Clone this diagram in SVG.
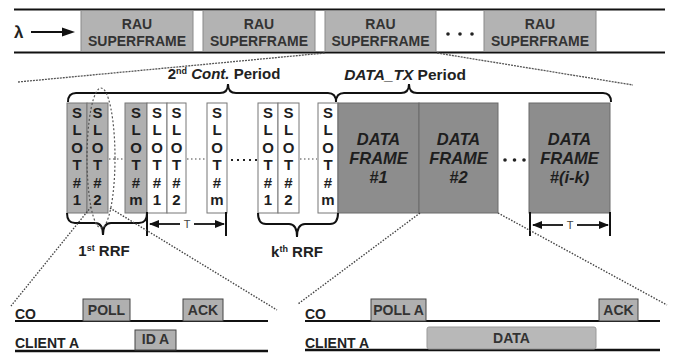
<svg xmlns="http://www.w3.org/2000/svg" width="679" height="354" viewBox="0 0 679 354">
<defs>
<style>
text{font-family:"Liberation Sans",Arial,sans-serif;font-weight:bold;fill:#222}
.rau{fill:#b3b3b3;stroke:#8a8a8a;stroke-width:1}
.rt{font-size:14px;text-anchor:middle;fill:#333}
.slotg{fill:#b0b0b0;stroke:#777;stroke-width:1}
.slotw{fill:#fff;stroke:#777;stroke-width:1}
.st{font-size:15px;text-anchor:middle;fill:#1e1e1e}
.df{fill:#8d8d8d;stroke:#6a6a6a;stroke-width:1}
.dt{font-size:16.5px;font-style:italic;text-anchor:middle;fill:#1e1e1e}
.brace{fill:none;stroke:#111;stroke-width:2}
.dot{fill:none;stroke:#555;stroke-width:1.3;stroke-dasharray:2 1}
.lead{fill:none;stroke:#444;stroke-width:1.4;stroke-dasharray:1.5 1.5}
.bar{stroke:#111;stroke-width:2}
.tline{stroke:#111;stroke-width:1.8}
.box{fill:#b0b0b0;stroke:#444;stroke-width:1}
.bt{font-size:14px;text-anchor:middle;fill:#333}
.lbl{font-size:14px;fill:#222}
.axis{stroke:#111;stroke-width:2}
.pdot{fill:#222}
</style>
<marker id="ah" viewBox="0 0 10 8" refX="9" refY="4" markerWidth="10" markerHeight="8" markerUnits="userSpaceOnUse" orient="auto-start-reverse">
<path d="M0,0 L10,4 L0,8 Z" fill="#111"/>
</marker>
</defs>

<g id="top-band">
<line x1="14" y1="9.5" x2="665" y2="9.5" class="axis"/>
<line x1="14" y1="52.5" x2="665" y2="52.5" class="axis"/>
<text x="14" y="38" style="font-size:17px">λ</text>
<line x1="31" y1="32" x2="66" y2="32" stroke="#111" stroke-width="2"/>
<path d="M62,27.5 L75,32 L62,36.5 Z" fill="#111"/>
</g>

<g id="rau1"><rect x="81" y="10.5" width="112" height="41" class="rau"/><text x="137" y="28.5" class="rt">RAU</text><text x="137" y="46" class="rt">SUPERFRAME</text></g>
<g id="rau2"><rect x="203" y="10.5" width="112" height="41" class="rau"/><text x="259" y="28.5" class="rt">RAU</text><text x="259" y="46" class="rt">SUPERFRAME</text></g>
<g id="rau3"><rect x="325" y="10.5" width="111" height="41" class="rau"/><text x="380.5" y="28.5" class="rt">RAU</text><text x="380.5" y="46" class="rt">SUPERFRAME</text></g>
<g id="rau-dots"><circle cx="448" cy="34" r="1.8" class="pdot"/><circle cx="460" cy="34" r="1.8" class="pdot"/><circle cx="472" cy="34" r="1.8" class="pdot"/></g>
<g id="rau4"><rect x="484" y="10.5" width="112" height="41" class="rau"/><text x="540" y="28.5" class="rt">RAU</text><text x="540" y="46" class="rt">SUPERFRAME</text></g>

<g id="period-labels">
<text x="224" y="79" style="font-size:15px" text-anchor="middle">2<tspan font-size="9" dy="-5">nd</tspan><tspan dy="5" font-style="italic"> Cont.</tspan> Period</text>
<text x="405" y="80" style="font-size:15.5px" text-anchor="middle"><tspan font-style="italic">DATA_TX</tspan> Period</text>
</g>

<g id="slots">
<rect x="67" y="103" width="20" height="110" class="slotg"/>
<rect x="87" y="103" width="21" height="110" class="slotg"/>
<rect x="125" y="103" width="22" height="110" class="slotg"/>
<rect x="147" y="103" width="20" height="110" class="slotw"/>
<rect x="167" y="103" width="19" height="110" class="slotw"/>
<rect x="207" y="103" width="20" height="110" class="slotw"/>
<rect x="258" y="103" width="20" height="110" class="slotw"/>
<rect x="278" y="103" width="21" height="110" class="slotw"/>
<rect x="318" y="103" width="20" height="110" class="slotw"/>
<text class="st"><tspan x="77" y="117.5">S</tspan><tspan x="77" y="135">L</tspan><tspan x="77" y="152.5">O</tspan><tspan x="77" y="170">T</tspan><tspan x="77" y="187.5">#</tspan><tspan x="77" y="205">1</tspan></text>
<text class="st"><tspan x="97.5" y="117.5">S</tspan><tspan x="97.5" y="135">L</tspan><tspan x="97.5" y="152.5">O</tspan><tspan x="97.5" y="170">T</tspan><tspan x="97.5" y="187.5">#</tspan><tspan x="97.5" y="205">2</tspan></text>
<text class="st"><tspan x="136" y="117.5">S</tspan><tspan x="136" y="135">L</tspan><tspan x="136" y="152.5">O</tspan><tspan x="136" y="170">T</tspan><tspan x="136" y="187.5">#</tspan><tspan x="136" y="205">m</tspan></text>
<text class="st"><tspan x="157" y="117.5">S</tspan><tspan x="157" y="135">L</tspan><tspan x="157" y="152.5">O</tspan><tspan x="157" y="170">T</tspan><tspan x="157" y="187.5">#</tspan><tspan x="157" y="205">1</tspan></text>
<text class="st"><tspan x="176.5" y="117.5">S</tspan><tspan x="176.5" y="135">L</tspan><tspan x="176.5" y="152.5">O</tspan><tspan x="176.5" y="170">T</tspan><tspan x="176.5" y="187.5">#</tspan><tspan x="176.5" y="205">2</tspan></text>
<text class="st"><tspan x="217" y="117.5">S</tspan><tspan x="217" y="135">L</tspan><tspan x="217" y="152.5">O</tspan><tspan x="217" y="170">T</tspan><tspan x="217" y="187.5">#</tspan><tspan x="217" y="205">m</tspan></text>
<text class="st"><tspan x="268" y="117.5">S</tspan><tspan x="268" y="135">L</tspan><tspan x="268" y="152.5">O</tspan><tspan x="268" y="170">T</tspan><tspan x="268" y="187.5">#</tspan><tspan x="268" y="205">1</tspan></text>
<text class="st"><tspan x="288.5" y="117.5">S</tspan><tspan x="288.5" y="135">L</tspan><tspan x="288.5" y="152.5">O</tspan><tspan x="288.5" y="170">T</tspan><tspan x="288.5" y="187.5">#</tspan><tspan x="288.5" y="205">2</tspan></text>
<text class="st"><tspan x="328" y="117.5">S</tspan><tspan x="328" y="135">L</tspan><tspan x="328" y="152.5">O</tspan><tspan x="328" y="170">T</tspan><tspan x="328" y="187.5">#</tspan><tspan x="328" y="205">m</tspan></text>
</g>

<g id="data-frames">
<rect x="338" y="103" width="81" height="110" class="df"/>
<rect x="419" y="103" width="79" height="110" class="df"/>
<rect x="529" y="103" width="81" height="110" class="df"/>
<text x="378.5" y="145" class="dt">DATA</text><text x="378.5" y="164" class="dt">FRAME</text><text x="378.5" y="183" class="dt">#1</text>
<text x="458.5" y="145" class="dt">DATA</text><text x="458.5" y="164" class="dt">FRAME</text><text x="458.5" y="183" class="dt">#2</text>
<text x="569.5" y="145" class="dt">DATA</text><text x="569.5" y="164" class="dt">FRAME</text><text x="569.5" y="183" class="dt">#(i-k)</text>
<circle cx="505" cy="160" r="1.8" class="pdot"/><circle cx="514.5" cy="160" r="1.8" class="pdot"/><circle cx="524" cy="160" r="1.8" class="pdot"/>
</g>

<g id="connectors">
<line x1="18" y1="82" x2="325" y2="53" class="dot"/>
<line x1="437" y1="53" x2="633" y2="85" class="dot"/>
<path d="M68,102 Q68,93 76,93 L220,93 Q228,93 228,84 Q228,93 236,93 L328,93 Q336,93 336,102" class="brace"/>
<path d="M336,102 Q336,93 344,93 L401,93 Q409,93 409,84 Q409,93 417,93 L603,93 Q611,93 611,102" class="brace"/>
<path d="M67,213 Q67,223 75,223 L95,223 Q103,223 103,235 Q103,223 111,223 L139,223 Q147,223 147,213" class="brace"/>
<path d="M258,213 Q258,224 266,224 L289,224 Q297,224 297,237 Q297,224 305,224 L330,224 Q338,224 338,213" class="brace"/>
<g stroke="#444" stroke-width="1.2" stroke-dasharray="1.5 2.5">
<line x1="109" y1="159" x2="125" y2="159"/>
<line x1="187" y1="159" x2="206" y2="159"/>
<line x1="300" y1="159" x2="317" y2="159"/>
</g>
<g stroke="#222" stroke-width="2.2" stroke-dasharray="2 4">
<line x1="231" y1="160" x2="257" y2="160"/>
</g>
<ellipse cx="101" cy="158" rx="14" ry="70" fill="none" stroke="#555" stroke-width="1.2" stroke-dasharray="2 2"/>
<line x1="147" y1="212" x2="147" y2="236" class="bar"/>
<line x1="226" y1="212" x2="226" y2="236" class="bar"/>
<line x1="150" y1="224" x2="180" y2="224" class="tline" marker-start="url(#ah)"/>
<line x1="194" y1="224" x2="224" y2="224" class="tline" marker-end="url(#ah)"/>
<line x1="530" y1="212" x2="530" y2="236" class="bar"/>
<line x1="610" y1="212" x2="610" y2="236" class="bar"/>
<line x1="533" y1="225" x2="563" y2="225" class="tline" marker-start="url(#ah)"/>
<line x1="577" y1="225" x2="608" y2="225" class="tline" marker-end="url(#ah)"/>
<line x1="91" y1="207" x2="11" y2="306" class="lead"/>
<line x1="110" y1="208" x2="277" y2="310" class="lead"/>
<line x1="420" y1="213" x2="298" y2="304" class="lead"/>
<line x1="498" y1="213" x2="667" y2="305" class="lead"/>
</g>

<g id="rrf-labels">
<text x="187" y="228" style="font-size:11px;font-weight:normal;fill:#444" text-anchor="middle">T</text>
<text x="570" y="229" style="font-size:11px;font-weight:normal;fill:#444" text-anchor="middle">T</text>
<text x="104" y="256" style="font-size:15px" text-anchor="middle">1<tspan font-size="9" dy="-5">st</tspan><tspan dy="5"> RRF</tspan></text>
<text x="297" y="257" style="font-size:15px" text-anchor="middle">k<tspan font-size="9" dy="-5">th</tspan><tspan dy="5"> RRF</tspan></text>
</g>

<g id="timeline-left">
<line x1="15" y1="321" x2="268" y2="321" class="axis"/>
<line x1="15" y1="351" x2="268" y2="351" stroke="#111" stroke-width="2.5"/>
<text x="15" y="319" class="lbl">CO</text>
<text x="15" y="348" class="lbl">CLIENT A</text>
<g id="poll"><rect x="83" y="299" width="47" height="22" class="box"/><text x="106.5" y="315" class="bt">POLL</text></g>
<g id="ack1"><rect x="183" y="299" width="40" height="22" class="box"/><text x="203" y="315" class="bt">ACK</text></g>
<g id="ida"><rect x="135" y="330" width="41" height="20" class="box"/><text x="155.5" y="344" class="bt">ID A</text></g>
</g>

<g id="timeline-right">
<line x1="305" y1="321" x2="660" y2="321" class="axis"/>
<line x1="305" y1="350" x2="660" y2="350" stroke="#111" stroke-width="2.5"/>
<text x="305" y="319" class="lbl">CO</text>
<text x="305" y="348" class="lbl">CLIENT A</text>
<g id="polla"><rect x="371" y="299" width="55" height="22" class="box"/><text x="398.5" y="315" class="bt">POLL A</text></g>
<g id="ack2"><rect x="599" y="299" width="39" height="22" class="box"/><text x="618.5" y="315" class="bt">ACK</text></g>
<g id="data"><rect x="427" y="327" width="169" height="22" rx="2" fill="#b8b8b8" stroke="#999" stroke-width="1"/><text x="511.5" y="343" class="bt">DATA</text></g>
</g>
</svg>
